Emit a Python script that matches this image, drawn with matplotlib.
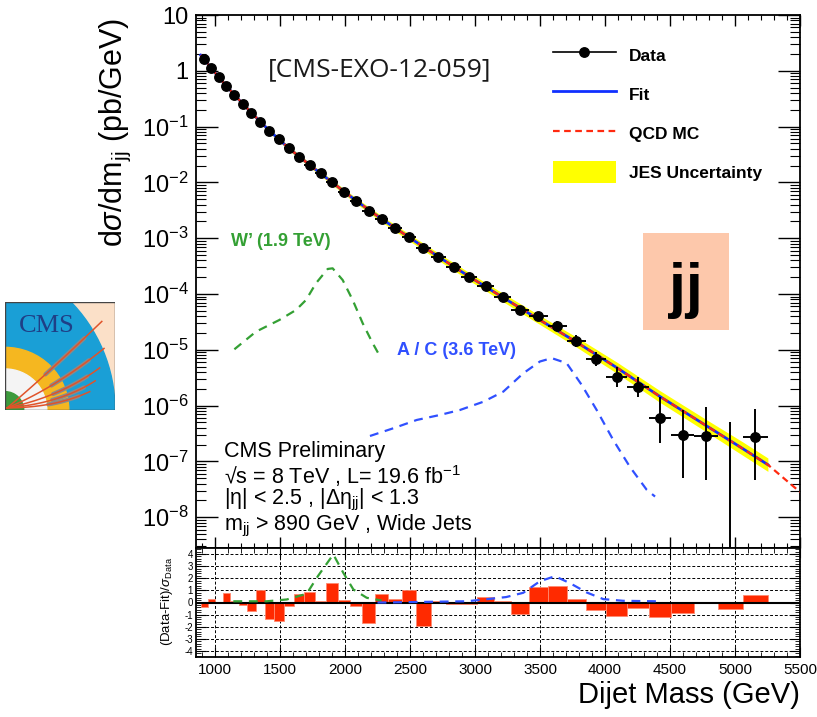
import numpy as np
import matplotlib
matplotlib.use('Agg')
import matplotlib.pyplot as plt
from matplotlib.lines import Line2D
from matplotlib.patches import Patch, Rectangle, Circle
from matplotlib.ticker import LogLocator, FuncFormatter, MultipleLocator, NullFormatter

plt.rcParams['font.family'] = ['Liberation Sans', 'DejaVu Sans']
plt.rcParams['mathtext.fontset'] = 'custom'
plt.rcParams['mathtext.rm'] = 'Liberation Sans'
plt.rcParams['mathtext.it'] = 'Liberation Sans:italic'
plt.rcParams['mathtext.bf'] = 'Liberation Sans:bold'
plt.rcParams['axes.unicode_minus'] = False

W, H = 817, 717
def fx(x): return x / W
def fy(y): return 1 - y / H

# dijet mass bins (GeV)
bin_edges = [890, 944, 1000, 1058, 1118, 1181, 1246, 1313, 1383, 1455, 1530, 1607,
             1687, 1770, 1856, 1945, 2037, 2132, 2231, 2332, 2438, 2546, 2659, 2775,
             2895, 3019, 3147, 3279, 3416, 3558, 3704, 3854, 4010, 4171, 4337, 4509,
             4686, 4869, 5058, 5253]
# measured dsigma/dm (pb/GeV), 0 = empty bin
data = [1.607, 1.109, 0.764, 0.535, 0.368, 0.254, 0.1774, 0.1225, 0.0843, 0.0592,
        0.0407, 0.0289, 0.0205, 0.01455, 0.01002, 0.00681, 0.00470, 0.00311, 0.00221,
        0.00150, 0.00104, 6.76e-4, 4.66e-4, 3.08e-4, 2.04e-4, 1.39e-4, 8.95e-5,
        5.16e-5, 4.07e-5, 2.63e-5, 1.44e-5, 6.84e-6, 3.26e-6, 2.15e-6, 6.0e-7,
        2.97e-7, 2.85e-7, 0, 2.74e-7]
# error bar extent in decades
err_up_dex = [0.02] * 27 + [0.05, 0.07, 0.09, 0.11, 0.13, 0.18, 0.18, 0.37, 0.45, 0.52, 0, 0.50]
err_dn_dex = [0.02] * 27 + [0.05, 0.07, 0.09, 0.11, 0.13, 0.18, 0.18, 0.45, 0.77, 0.79, 0, 0.77]
empty_bin_upper = 5.08e-7

# (data-fit)/sigma per bin
resid = [-0.35, 0.25, 0.02, 0.75, 0.12, -0.2, -0.7, 1.0, -1.35, -1.5, -0.3, 0.72, 0.88,
         0.15, 1.63, 0.2, -0.3, -1.68, 0.72, 0.25, 1.0, -1.9, 0.1, -0.1, -0.15, 0.44,
         0.15, -0.91, 1.3, 1.37, 0.33, -0.66, -1.13, -0.44, -1.19, -0.85, -0.08, -0.52, 0.6]

fit_mass = [890, 917, 1029, 1150, 1280, 1419, 1569, 1729, 1901, 2085, 2282, 2492, 2717,
            2957, 3213, 3487, 3779, 4090, 4423, 4778, 5058, 5253]
fit_val = [1.905, 1.607, 0.764, 0.368, 0.1774, 0.0843, 0.0407, 0.0205, 0.01002, 0.0047,
           0.00221, 0.00104, 4.68e-4, 2.04e-4, 8.71e-5, 3.55e-5, 1.38e-5, 4.79e-6,
           1.45e-6, 4.37e-7, 1.70e-7, 8.71e-8]
jes_dex = [0.03, 0.03, 0.03, 0.03, 0.035, 0.035, 0.04, 0.04, 0.045, 0.05, 0.055, 0.06,
           0.065, 0.07, 0.075, 0.08, 0.09, 0.1, 0.105, 0.11, 0.12, 0.12]
qcd_mass = fit_mass + [5500]
qcd_val = fit_val + [2.82e-8]

wp_mass = [1149, 1315, 1495, 1623, 1700, 1777, 1867, 1905, 1982, 2059, 2136, 2213, 2259]
wp_val = [1.02e-5, 2.11e-5, 3.42e-5, 5.16e-5, 7.80e-5, 1.56e-4, 2.81e-4, 2.88e-4,
          1.78e-4, 7.80e-5, 2.99e-5, 1.31e-5, 8.41e-6]
ac_mass = [2192, 2372, 2552, 2731, 2885, 3064, 3218, 3372, 3500, 3590, 3705, 3821, 3936,
           4064, 4192, 4321, 4385]
ac_val = [2.85e-7, 3.92e-7, 5.52e-7, 6.79e-7, 8.34e-7, 1.17e-6, 1.78e-6, 3.80e-6,
          6.17e-6, 7.08e-6, 5.75e-6, 2.34e-6, 8.32e-7, 2.40e-7, 7.94e-8, 3.09e-8, 2.34e-8]

wp_res_mass = [1141, 1398, 1552, 1705, 1793, 1910, 1987, 2064, 2167, 2282]
wp_res = [0.1, 0.1, 0.25, 0.72, 2.2, 3.97, 2.45, 1.08, 0.39, 0.16]
ac_res_mass = [2250, 2321, 2600, 2936, 3115, 3240, 3371, 3500, 3615, 3730, 3859, 3987, 4140, 4398]
ac_res = [0.0, 0.0, 0.05, 0.1, 0.3, 0.45, 0.8, 1.76, 2.17, 1.6, 0.83, 0.28, 0.14, 0.1]

green = '#34a034'
blue = '#3050ff'

edges = np.array(bin_edges, dtype=float)
centers = 0.5 * (edges[1:] + edges[:-1])
halfw = 0.5 * (edges[1:] - edges[:-1])
d = np.array(data)
ok = d > 0
up = d * (10 ** np.array(err_up_dex)) - d
dn = d - d * (10 ** -np.array(err_dn_dex))

fig = plt.figure(figsize=(W / 100, H / 100), dpi=100)
ax = fig.add_axes([fx(195.5), fy(548), 604.5 / W, 533 / H])
ax2 = fig.add_axes([fx(195.5), fy(657), 604.5 / W, 109 / H], sharex=ax)

# main panel
fm = np.array(fit_mass); fv = np.array(fit_val); jd = np.array(jes_dex)
ax.fill_between(fm, fv * 10 ** -jd, fv * 10 ** jd, color='#ffff00', lw=0, zorder=1)
ax.plot(fm, fv, color='#1030ff', lw=2, zorder=2)
ax.plot(qcd_mass, qcd_val, color='#ff2a10', lw=1.6, ls=(0, (3, 2)), zorder=3)
ax.errorbar(centers[ok], d[ok], xerr=halfw[ok], yerr=[dn[ok], up[ok]], fmt='o', color='k',
            ms=6.8, elinewidth=1.4, capsize=0, zorder=5)
ax.vlines(centers[~ok], 1e-10, empty_bin_upper, color='k', lw=1.4, zorder=5)
ax.plot(wp_mass, wp_val, color=green, lw=1.6, ls=(0, (4, 3)), zorder=4)
ax.plot(ac_mass, ac_val, color=blue, lw=1.6, ls=(0, (4, 3)), zorder=4)

ax.set_yscale('log')
ax.set_ylim(2.8e-9, 10)
ax.set_xlim(850, 5500)
ax.yaxis.set_major_locator(LogLocator(base=10, numticks=30))
ax.yaxis.set_minor_locator(LogLocator(base=10, subs=np.arange(2, 10), numticks=30))
ax.yaxis.set_minor_formatter(NullFormatter())

def ylab(v, pos):
    e = int(round(np.log10(v)))
    if e == 1:
        return '10'
    if e == 0:
        return '1'
    return '$10^{%d}$' % e
ax.yaxis.set_major_formatter(FuncFormatter(ylab))
ax.xaxis.set_major_locator(MultipleLocator(500))
ax.xaxis.set_minor_locator(MultipleLocator(100))
ax.tick_params(which='both', direction='in', top=True, right=True, labelbottom=False)
ax.tick_params(axis='y', which='major', length=15.5, width=1, labelsize=17, pad=5)
ax.tick_params(axis='y', which='minor', length=7.5, width=0.8)
ax.tick_params(axis='x', which='major', length=8, width=1)
ax.tick_params(axis='x', which='minor', length=3.6, width=0.8)
for s in ax.spines.values():
    s.set_linewidth(1.3)

handles = [Line2D([], [], color='k', marker='o', ms=6.8, lw=1.2),
           Line2D([], [], color='#1030ff', lw=2),
           Line2D([], [], color='#ff2a10', lw=1.6, ls=(0, (3, 2))),
           Patch(facecolor='#ffff00', edgecolor='none')]
labels = ['Data', 'Fit', 'QCD MC', 'JES Uncertainty']
ax.legend(handles, labels, loc='upper left', bbox_to_anchor=(fx(553), fy(44)),
          bbox_transform=fig.transFigure, frameon=False, borderpad=0, borderaxespad=0,
          handlelength=3.6, handleheight=1.55, labelspacing=1.0, handletextpad=0.75,
          prop={'weight': 'bold', 'size': 12.5})

# residual panel
ax2.bar(edges[:-1], resid, width=np.diff(edges), align='edge', color='#ff2a00',
        edgecolor='#ff8a70', linewidth=0.6, zorder=2)
ax2.axhline(0, color='k', lw=1.5, zorder=3)
ax2.plot(wp_res_mass, wp_res, color=green, lw=1.6, ls=(0, (4, 3)), zorder=4)
ax2.plot(ac_res_mass, ac_res, color=blue, lw=1.6, ls=(0, (4, 3)), zorder=4)
ax2.set_ylim(-4.5, 4.5)
ax2.yaxis.set_major_locator(MultipleLocator(1))
ax2.yaxis.set_minor_locator(MultipleLocator(0.2))
ax2.set_axisbelow(True)
ax2.grid(True, which='major', color='k', lw=0.7, ls=(0, (3, 2)))
ax2.tick_params(which='both', direction='in', top=True, right=True)
ax2.tick_params(axis='y', which='major', length=7, labelsize=7, pad=2)
ax2.tick_params(axis='y', which='minor', length=3.5)
ax2.tick_params(axis='x', which='major', length=7, labelsize=11, pad=4)
ax2.tick_params(axis='x', which='minor', length=3.5)
for s in ax2.spines.values():
    s.set_linewidth(1.3)

# texts
fig.text(fx(115), fy(132), r'd$\sigma$/dm$_{\mathrm{jj}}$ (pb/GeV)', rotation=90,
         ha='center', va='center', fontsize=22)
fig.text(fx(800), fy(695), 'Dijet Mass (GeV)', ha='right', va='center', fontsize=21)
fig.text(fx(167), fy(601), r'(Data-Fit)/$\sigma_{\mathrm{Data}}$', rotation=90,
         ha='center', va='center', fontsize=9.5)
fig.text(fx(268), fy(70), '[CMS-EXO-12-059]', ha='left', va='center', fontsize=19,
         family=['Open Sans', 'DejaVu Sans'], color='#1a1a1a')
fig.text(fx(231), fy(242), 'W’ (1.9 TeV)', ha='left', va='center', fontsize=13,
         weight='bold', color=green)
fig.text(fx(397), fy(350), 'A / C (3.6 TeV)', ha='left', va='center', fontsize=13,
         weight='bold', color=blue)
info = ['CMS Preliminary',
        r'√s = 8 TeV , L= 19.6 fb$^{-1}$',
        r'|η| < 2.5 , |Δη$_{\mathrm{jj}}$| < 1.3',
        r'm$_{\mathrm{jj}}$ > 890 GeV , Wide Jets']
for txt, yy in zip(info, [452, 476, 500, 526]):
    fig.text(fx(224), fy(yy), txt, ha='left', va='center', fontsize=15.5)

# jj box
fig.patches.append(Rectangle((fx(643), fy(330)), 86 / W, 97 / H, transform=fig.transFigure,
                             facecolor='#fdc8ab', edgecolor='none', zorder=10))
fig.text(fx(686), fy(290), 'jj', ha='center', va='center', fontsize=44, weight='bold',
         color='k', zorder=11)

# CMS logo
logo = fig.add_axes([fx(5), fy(410), 110 / W, 108 / H])
logo.set_xlim(0, 1)
logo.set_ylim(0, 1)
logo.axis('off')
logo.add_patch(Rectangle((0, 0), 1, 1, color='#fbe0c8'))
logo.add_patch(Circle((-0.45, 0), 1.45, color='#1a9fd6'))
logo.add_patch(Circle((0, 0), 0.58, color='#f5b720'))
logo.add_patch(Circle((0, 0), 0.38, color='#f4f4f4'))
logo.add_patch(Circle((0, 0), 0.17, color='#3c9a3c'))
track_end = [(0.88, 0.82), (0.9, 0.57), (0.86, 0.39), (0.82, 0.27), (0.77, 0.17)]
track_ctrl = [(0.35, 0.3), (0.45, 0.2), (0.5, 0.12), (0.5, 0.06), (0.45, 0.02)]
t = np.linspace(0, 1, 40)
for (ex, ey), (cx, cy) in zip(track_end, track_ctrl):
    px = (1 - t) ** 2 * 0.02 + 2 * (1 - t) * t * cx + t ** 2 * ex
    py = (1 - t) ** 2 * 0.02 + 2 * (1 - t) * t * cy + t ** 2 * ey
    logo.plot(px[18:34], py[18:34], color='#8a8a8a', lw=3, solid_capstyle='round')
    logo.plot(px, py, color='#e0532a', lw=1.1)
logo.text(0.38, 0.78, 'CMS', ha='center', va='center', fontsize=19,
          family=['Liberation Serif', 'DejaVu Serif'], color='#1f3f86')
logo.add_patch(Rectangle((0, 0), 1, 1, fill=False, edgecolor='#444444', lw=1))

fig.savefig('out.png', dpi=100)
